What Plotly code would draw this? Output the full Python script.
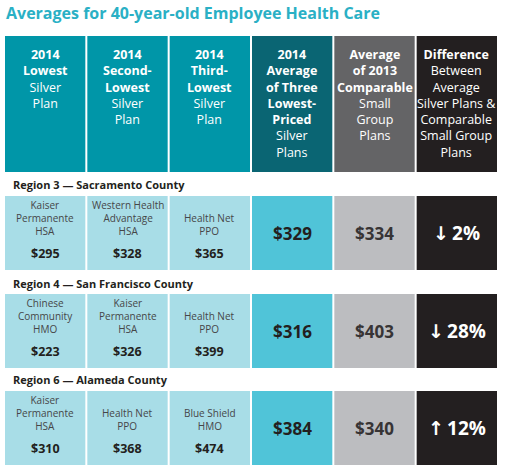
import plotly.graph_objects as go

# ---------------- data ----------------
title = "Averages for 40-year-old Employee Health Care"
headers = [
    "<b>2014</b><br><b>Lowest</b><br>Silver<br>Plan",
    "<b>2014</b><br><b>Second-</b><br><b>Lowest</b><br>Silver<br>Plan",
    "<b>2014</b><br><b>Third-</b><br><b>Lowest</b><br>Silver<br>Plan",
    "<b>2014</b><br><b>Average</b><br><b>of Three</b><br><b>Lowest-</b><br><b>Priced</b><br>Silver<br>Plans",
    "<b>Average</b><br><b>of 2013</b><br><b>Comparable</b><br>Small<br>Group<br>Plans",
    "<b>Difference</b><br>Between<br>Average<br>Silver Plans &<br>Comparable<br>Small Group<br>Plans",
]
regions = ["Region 3 — Sacramento County",
           "Region 4 — San Francisco County",
           "Region 6 — Alameda County"]
plan_names = [
    ["Kaiser<br>Permanente<br>HSA", "Western Health<br>Advantage<br>HSA", "Health Net<br>PPO"],
    ["Chinese<br>Community<br>HMO", "Kaiser<br>Permanente<br>HSA", "Health Net<br>PPO"],
    ["Kaiser<br>Permanente<br>HSA", "Health Net<br>PPO", "Blue Shield<br>HMO"],
]
plan_prices = [[295, 328, 365], [223, 326, 399], [310, 368, 474]]
avg_2014 = [329, 316, 384]
avg_2013 = [334, 403, 340]
difference = [-2, -28, 12]

# ---------------- styling ----------------
W, H = 505, 469
FONT = "Open Sans"
col_w = 494 / 6
x0_px = 4
def px2x(px):
    return -0.5 + (px - x0_px) / col_w

header_colors = ["rgb(0,150,168)"] * 3 + ["rgb(10,101,115)", "rgb(100,100,102)", "rgb(35,31,32)"]
body_colors = ["rgb(168,221,231)"] * 3 + ["rgb(80,196,216)", "rgb(188,189,192)", "rgb(35,31,32)"]

header_top, header_h = 36, 136
row_tops = [196, 294, 391]
row_h = 74
label_y = [184, 283, 379]

cols = list(range(6))
fig = go.Figure()
bar_w = (col_w - 2) / col_w

fig.add_trace(go.Bar(x=cols, y=[header_h] * 6, base=[header_top] * 6, width=bar_w,
                     marker=dict(color=header_colors, line=dict(width=0)),
                     hoverinfo="skip", showlegend=False))
for r in range(3):
    fig.add_trace(go.Bar(x=cols, y=[row_h] * 6, base=[row_tops[r]] * 6, width=bar_w,
                         marker=dict(color=body_colors, line=dict(width=0)),
                         hoverinfo="skip", showlegend=False))

ann = []
ann.append(dict(x=px2x(4), y=13, text="<b>" + title + "</b>", xanchor="left", yanchor="middle",
                showarrow=False, font=dict(family=FONT, size=16, color="rgb(42,176,197)")))
for c in cols:
    ann.append(dict(x=c, y=44, text=headers[c], xanchor="center", yanchor="top", showarrow=False,
                    align="center", font=dict(family=FONT, size=12.5, color="white")))
for r in range(3):
    ann.append(dict(x=px2x(11), y=label_y[r], text="<b>" + regions[r] + "</b>", xanchor="left",
                    yanchor="middle", showarrow=False,
                    font=dict(family=FONT, size=11, color="rgb(35,31,32)")))
    top = row_tops[r]
    for c in range(3):
        ann.append(dict(x=c, y=top + 44, text=plan_names[r][c], xanchor="center", yanchor="bottom",
                        showarrow=False, align="center",
                        font=dict(family=FONT, size=10, color="rgb(70,70,72)")))
        ann.append(dict(x=c, y=top + 57, text="<b>$%d</b>" % plan_prices[r][c], xanchor="center",
                        yanchor="middle", showarrow=False,
                        font=dict(family=FONT, size=12.5, color="rgb(35,31,32)")))
    mid = top + row_h / 2
    ann.append(dict(x=3, y=mid, text="<b>$%d</b>" % avg_2014[r], xanchor="center", yanchor="middle",
                    showarrow=False, font=dict(family=FONT, size=17, color="rgb(35,31,32)")))
    ann.append(dict(x=4, y=mid, text="<b>$%d</b>" % avg_2013[r], xanchor="center", yanchor="middle",
                    showarrow=False, font=dict(family=FONT, size=17, color="rgb(55,52,53)")))
    d = difference[r]
    arrow = "↓" if d < 0 else "↑"
    ann.append(dict(x=5, y=mid,
                    text="<b><span style='font-family:DejaVu Sans'>%s</span>\u2009%d%%</b>" % (arrow, abs(d)),
                    xanchor="center", yanchor="middle", showarrow=False,
                    font=dict(family=FONT, size=19, color="white")))

fig.update_layout(
    width=W, height=H, margin=dict(l=0, r=0, t=0, b=0),
    paper_bgcolor="white", plot_bgcolor="white",
    barmode="overlay", annotations=ann,
    xaxis=dict(range=[px2x(0), px2x(W)], visible=False, fixedrange=True),
    yaxis=dict(range=[H, 0], visible=False, fixedrange=True),
)
fig.write_html("out.html", config={"displayModeBar": False},
               post_script="document.body.style.margin='0';document.body.style.overflow='hidden';")
